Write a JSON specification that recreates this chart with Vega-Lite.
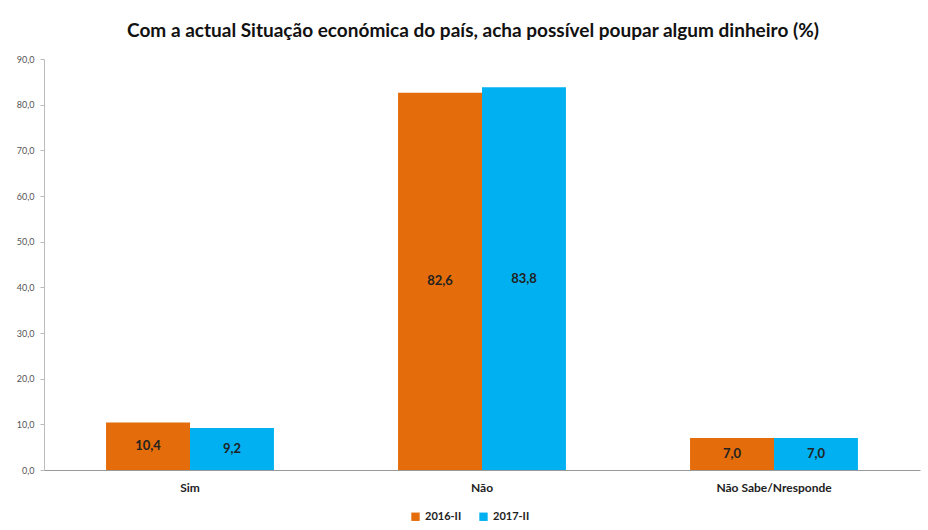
{
  "$schema": "https://vega.github.io/schema/vega-lite/v6.json",
  "width": 876,
  "height": 411,
  "autosize": {"type": "none"},
  "padding": {"left": 44, "top": 59, "right": 8, "bottom": 60},
  "background": "white",
  "config": {
    "locale": {"number": {"decimal": ",", "thousands": ".", "grouping": [3], "currency": ["", " €"]}},
    "view": {"stroke": null},
    "font": "Lato"
  },
  "title": {
    "text": "Com a actual Situação económica do país, acha possível poupar algum dinheiro (%)",
    "fontSize": 19,
    "fontWeight": "bold",
    "color": "#111",
    "offset": 14,
    "anchor": "middle",
    "dx": -9
  },
  "data": {
    "values": [
      {"cat": "Sim", "serie": "2016-II", "v": 10.4},
      {"cat": "Sim", "serie": "2017-II", "v": 9.2},
      {"cat": "Não", "serie": "2016-II", "v": 82.6},
      {"cat": "Não", "serie": "2017-II", "v": 83.8},
      {"cat": "Não Sabe/Nresponde", "serie": "2016-II", "v": 7.0},
      {"cat": "Não Sabe/Nresponde", "serie": "2017-II", "v": 7.0}
    ]
  },
  "encoding": {
    "x": {
      "field": "cat", "type": "nominal", "sort": null,
      "scale": {"paddingInner": 0.425, "paddingOuter": 0.2125},
      "axis": {"title": null, "labelAngle": 0, "ticks": false, "domainColor": "#999", "labelFontSize": 12, "labelFontWeight": "bold", "labelColor": "#222", "labelPadding": 12}
    },
    "xOffset": {"field": "serie", "type": "nominal"}
  },
  "layer": [
    {
      "mark": {"type": "bar"},
      "encoding": {
        "y": {
          "field": "v", "type": "quantitative",
          "scale": {"domain": [0, 90]},
          "axis": {"title": null, "values": [0,10,20,30,40,50,60,70,80,90], "format": ".1f", "grid": false, "domainColor": "#bbb", "tickColor": "#bbb", "tickSize": 4, "labelFontSize": 9, "labelColor": "#555", "labelPadding": 6}
        },
        "color": {
          "field": "serie", "type": "nominal",
          "scale": {"domain": ["2016-II", "2017-II"], "range": ["#E46C0A", "#00B0F0"]},
          "legend": {"title": null, "orient": "none", "legendX": 366, "legendY": 452, "direction": "horizontal", "symbolType": "square", "symbolSize": 70, "labelFontSize": 11, "labelFontWeight": "bold", "labelColor": "#222", "columnPadding": 16}
        }
      }
    },
    {
      "transform": [{"calculate": "datum.v / 2", "as": "mid"}],
      "mark": {"type": "text", "fontSize": 13, "fontWeight": "bold", "color": "#222", "baseline": "middle"},
      "encoding": {
        "y": {"field": "mid", "type": "quantitative"},
        "text": {"field": "v", "type": "quantitative", "format": ".1f"}
      }
    }
  ]
}
